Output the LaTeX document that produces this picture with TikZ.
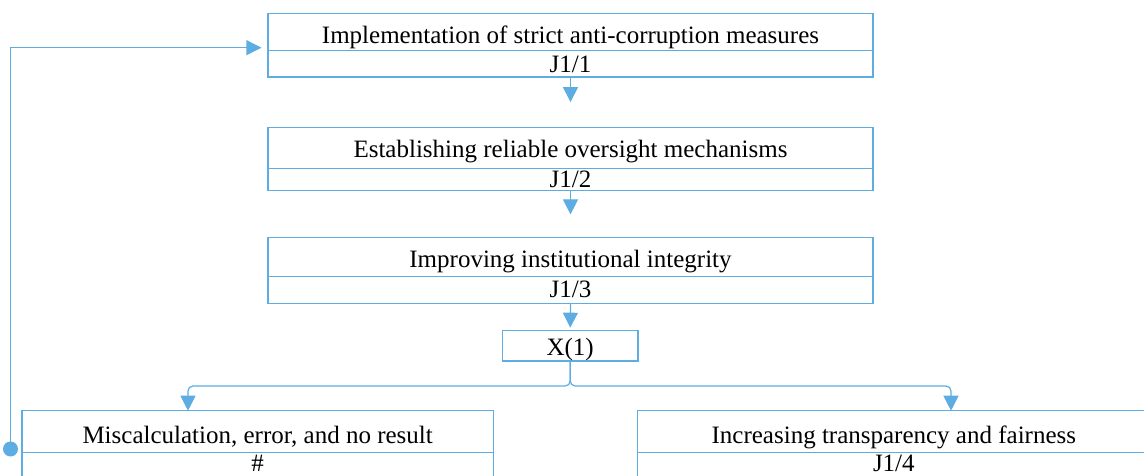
\documentclass[tikz,border=0pt]{standalone}
\usepackage{fontspec}
\setmainfont{Liberation Serif}
\usetikzlibrary{arrows.meta}
\definecolor{fblue}{RGB}{93,173,226}
\begin{document}
\begin{tikzpicture}[x=1pt,y=-1pt,
  part/.style={draw=fblue, line width=1.2pt, inner sep=0pt, text depth=0pt,
    font=\fontsize{25}{30}\selectfont, text=black},
  flow/.style={draw=fblue, line width=1.2pt, -{Triangle[width=15pt,length=15pt]}, fblue},
  dotmark/.style={circle, fill=fblue, inner sep=0pt, minimum size=15pt}
]
\clip (0,0) rectangle (1144,476);
\useasboundingbox (0,0) rectangle (1144,476);
% box 1
\node[part, minimum width=605pt, minimum height=37pt, text height=23pt] (b1t) at (570.5,31.8) {Implementation of strict anti-corruption measures};
\node[part, minimum width=605pt, minimum height=26.7pt, text height=18.1pt] (b1b) at (570.5,63.65) {J1/1};
% box 2
\node[part, minimum width=605pt, minimum height=40.6pt, text height=18.6pt] (b2t) at (570.5,148) {Establishing reliable oversight mechanisms};
\node[part, minimum width=605pt, minimum height=22.4pt, text height=15.6pt] (b2b) at (570.5,179.5) {J1/2};
% box 3
\node[part, minimum width=605pt, minimum height=39pt, text height=21pt] (b3t) at (570.5,257.2) {Improving institutional integrity};
\node[part, minimum width=605pt, minimum height=26.6pt, text height=15.4pt] (b3b) at (570.5,290) {J1/3};
% X(1)
\node[part, minimum width=135.7pt, minimum height=30.3pt, text height=18.3pt] (x1) at (570.2,345.85) {X(1)};
% bottom left
\node[part, minimum width=471.3pt, minimum height=42pt, text height=23.2pt] (blt) at (257.65,431.7) {Miscalculation, error, and no result};
\node[part, minimum width=471.3pt, minimum height=32.3pt, text height=4.3pt] (blb) at (257.65,468.85) {\#};
% bottom right
\node[part, minimum width=512.3pt, minimum height=42pt, text height=23.2pt] (brt) at (893.85,431.7) {Increasing transparency and fairness};
\node[part, minimum width=512.3pt, minimum height=32.3pt, text height=4.3pt] (brb) at (893.85,468.85) {J1/4};
% connectors
\draw[flow, shorten >=25pt] (b1b.south) -- (b2t.north);
\draw[flow, shorten >=22.7pt] (b2b.south) -- (b3t.north);
\draw[flow, shorten >=2.4pt] (b3b.south) -- (x1.north);
\coordinate (j) at (570.2,386);
\coordinate (lt) at (188,410.7);
\coordinate (rt) at (951,410.7);
\draw[flow, rounded corners=5pt] (x1.south) -- (j) -| (lt);
\draw[flow, rounded corners=5pt] (x1.south) -- (j) -| (rt);
% feedback
\node[dotmark] (dot) at (10.5,449) {};
\coordinate (fc) at (10.5,47.7);
\draw[flow, shorten >=6pt] (dot.center) -- (fc) -- (fc -| b1t.west);
\end{tikzpicture}
\end{document}
